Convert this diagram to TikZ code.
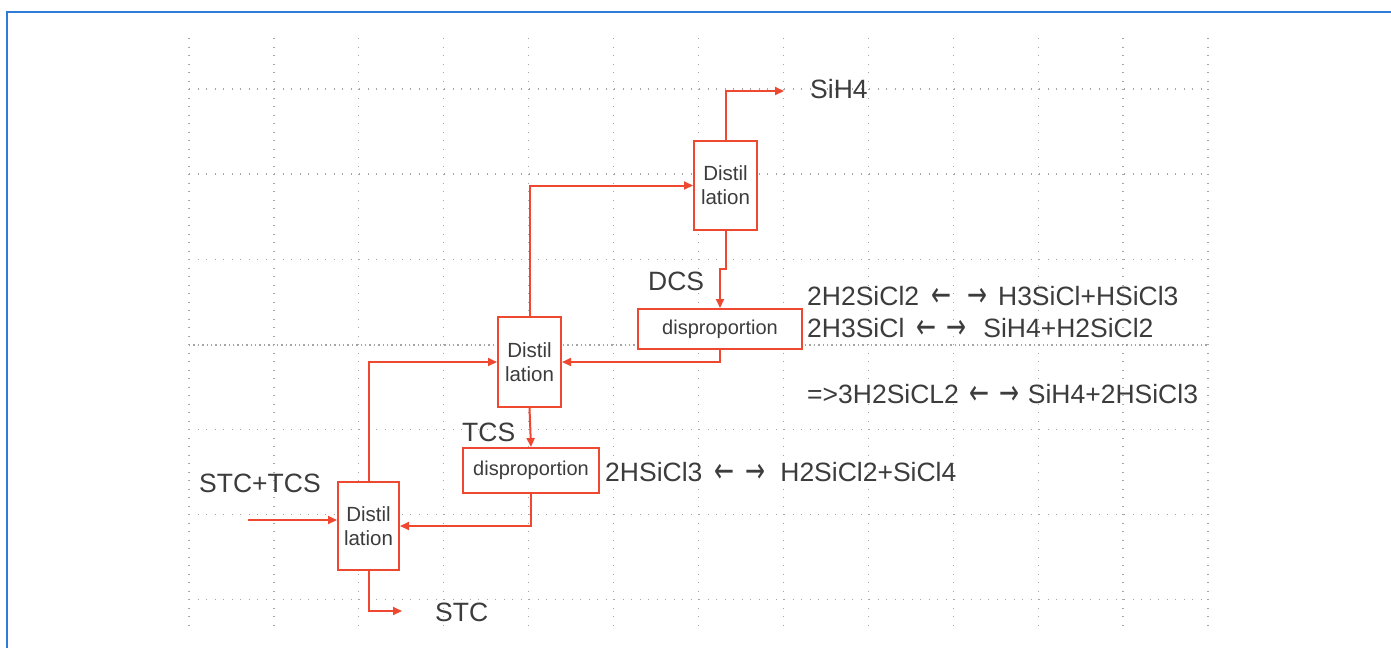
\documentclass[tikz,border=0pt]{standalone}
\usepackage{fontspec}
\usepackage{graphicx}
\setmainfont{Liberation Sans}
\newfontfamily\arrowfont{DejaVu Sans}
\newcommand{\LA}{{\arrowfont\raisebox{-0.03em}{\scalebox{0.9}[1.3]{←}}}}
\newcommand{\RA}{{\arrowfont\raisebox{-0.03em}{\scalebox{0.9}[1.3]{→}}}}
\newcommand{\eqar}[3]{\hspace{#1pt}\LA\hspace{#2pt}\RA\hspace{#3pt}}
\usetikzlibrary{arrows.meta}
\definecolor{flowred}{RGB}{238,72,48}
\definecolor{txtgray}{RGB}{60,60,60}
\definecolor{gridgray}{RGB}{165,165,165}
\definecolor{frameblue}{RGB}{47,123,214}
\tikzset{
  gridline/.style={gridgray, line width=1.3pt, dash pattern=on 1.4pt off 7.1pt},
  gridlinedense/.style={gridgray, line width=1.2pt, dash pattern=on 1.4pt off 3pt},
  distbox/.style={draw=flowred, line width=2pt, fill=white, minimum width=61pt, minimum height=88pt, inner sep=0pt,
     text=txtgray, align=center, font=\fontsize{20.5}{24}\selectfont},
  dispbox/.style={draw=flowred, line width=2pt, fill=white, minimum height=40pt, inner sep=0pt,
     text=txtgray, font=\fontsize{20}{24}\selectfont},
  flow/.style={flowred, line width=2pt, -{Triangle[length=9pt,width=8pt]}},
  flowplain/.style={flowred, line width=2pt},
  biglabel/.style={text=txtgray, inner sep=0pt, anchor=west, font=\fontsize{26.5}{30}\selectfont},
}
\begin{document}
\begin{tikzpicture}[x=1pt,y=-1pt]
\useasboundingbox (0,0) rectangle (1391,648);
\fill[white] (0,0) rectangle (1391,648);
% frame
\draw[frameblue, line width=2pt] (7,648) -- (7,12) -- (1391,12);
% grid
\foreach \i in {0,...,12} {
  \draw[gridline] ({189+84.92*\i},38) -- ({189+84.92*\i},625);
}
\foreach \j in {0,1,2,4,5,6} {
  \draw[gridline] (189,{89+85.1*\j}) -- (1208,{89+85.1*\j});
}
\draw[gridlinedense] (189,345) -- (1208,345);

% boxes
\node[distbox, minimum width=63pt, minimum height=89pt] (D3) at (725.5,185.5) {Distil\\lation};
\node[distbox, minimum width=63pt, minimum height=90pt] (D2) at (529.5,362) {Distil\\lation};
\node[distbox] (D1) at (368.5,526) {Distil\\lation};
\node[dispbox, minimum width=164pt] (P2) at (720,329) {disproportion};
\node[dispbox, minimum width=136pt, minimum height=45pt] (P1) at (531,470.5) {disproportion};

% coordinates
\coordinate (sih4end) at (784,91);
\coordinate (dcsjog) at (720,268);
\coordinate (feed) at (248,520);
\coordinate (stcend) at (402,611);

% connectors
\draw[flow] (D3.north) |- (sih4end);
\draw[flow] (D2.north) |- (D3.west);
\draw[flowplain] (D3.south) -- ++(0,38) -| (dcsjog);
\draw[flow] (dcsjog) -- (P2.north);
\draw[flow] (P2.south) |- (D2.east);
\draw[flow] (D1.north) |- (D2.west);
\draw[flow] (D2.south) -- (P1.north);
\draw[flow] (P1.south) |- (D1.east);
\draw[flow] (feed) -- (D1.west |- feed);
\draw[flow] (D1.south) |- (stcend);

% labels
\node[biglabel] (lsih4) at (810,89) {SiH4};
\node[biglabel] (ldcs) at (648,281) {DCS};
\node[biglabel] (ltcs) at (462,432) {TCS};
\node[biglabel] (lfeed) at (199,483) {STC+TCS};
\node[biglabel] (lstc) at (435,612) {STC};
\node[biglabel] (eq1) at (807,296) {2H2SiCl2\eqar{12}{16}{11}H3SiCl+HSiCl3};
\node[biglabel] (eq2) at (807,328) {2H3SiCl\eqar{12}{10}{17}SiH4+H2SiCl2};
\node[biglabel] (eq3) at (807,394) {=>3H2SiCL2\eqar{11}{10}{8}SiH4+2HSiCl3};
\node[biglabel] (eq4) at (605,472) {2HSiCl3\eqar{12}{11}{15}H2SiCl2+SiCl4};
\end{tikzpicture}
\end{document}
